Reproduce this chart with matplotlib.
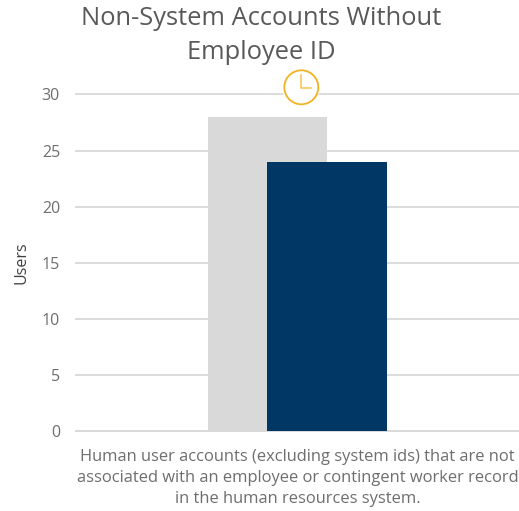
import matplotlib
matplotlib.use("Agg")
import matplotlib.pyplot as plt
from matplotlib.patches import Circle

plt.rcParams['font.family'] = ['Open Sans', 'DejaVu Sans']

prior_value = [28]
current_value = [24]
y_ticks = [0, 5, 10, 15, 20, 25, 30]

title = "Non-System Accounts Without\nEmployee ID"
caption = ("Human user accounts (excluding system ids) that are not\n"
           "associated with an employee or contingent worker record\n"
           "in the human resources system.")

W, H = 519, 511
fig = plt.figure(figsize=(W / 100, H / 100), dpi=100)
ax = fig.add_axes([76 / W, 1 - 431 / H, (519 - 76) / W, (431 - 94.5) / H])

# px per data unit on x is 1, so the bars can be laid out in image widths
ax.set_xlim(0, 443)
ax.set_ylim(0, 30)
ax.bar([191.5], prior_value, width=119.5, color="#d9d9d9", zorder=2)
ax.bar([251], current_value, width=120.5, color="#003764", zorder=3)

ax.set_yticks(y_ticks)
ax.set_xticks([])
ax.tick_params(axis='y', length=0, labelsize=11.5, labelcolor="#6e6e6e", pad=11.5)
ax.grid(axis='y', color="#d9d9d9", linewidth=1.3, zorder=1, clip_on=False)
ax.set_axisbelow(True)
for side in ['top', 'right', 'left']:
    ax.spines[side].set_visible(False)
ax.spines['bottom'].set_color("#d9d9d9")
ax.spines['bottom'].set_linewidth(1.3)
ax.set_ylabel("Users", fontsize=11.5, color="#404040", labelpad=8.5)

fig.text(261 / W, 1 - 35.5 / H, title, ha='center', va='center', fontsize=18.4,
         color="#595959", linespacing=1.45)
fig.text(297.5 / W, 1 - 478 / H, caption, ha='center', va='center', fontsize=11.85,
         color="#6e6e6e", linespacing=1.43)

# clock icon above the bars, with a white halo that breaks the 30 gridline
clock_ax = fig.add_axes([0, 0, 1, 1])
clock_ax.set_xlim(0, W)
clock_ax.set_ylim(H, 0)
clock_ax.axis('off')
clock_ax.patch.set_alpha(0)
clock_ax.add_patch(Circle((301, 87), 19, facecolor="white", edgecolor="none"))
clock_ax.add_patch(Circle((301.3, 87.3), 17, fill=False, edgecolor="#f0b323", linewidth=1.3))
clock_ax.plot([301.3, 301.3, 311], [75, 87.7, 87.7], color="#f5c452", linewidth=1.1)

fig.savefig("out.png", dpi=100)
